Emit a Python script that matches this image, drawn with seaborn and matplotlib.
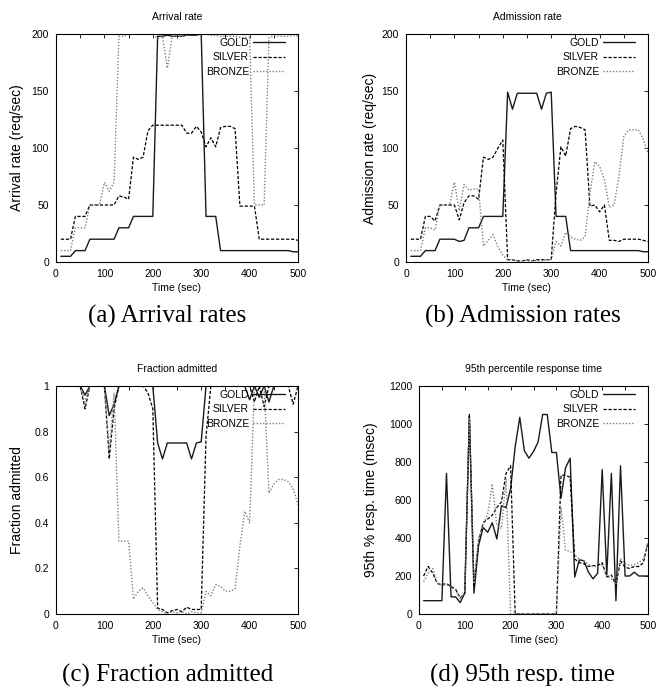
import matplotlib
matplotlib.use("Agg")
import matplotlib.pyplot as plt
from matplotlib.ticker import MultipleLocator
import seaborn as sns
import pandas as pd

# ---------------- data ----------------
time = [10, 20, 30, 40, 50, 60, 70, 80, 90, 100,
        110, 120, 130, 140, 150, 160, 170, 180, 190, 200,
        210, 220, 230, 240, 250, 260, 270, 280, 290, 300,
        310, 320, 330, 340, 350, 360, 370, 380, 390, 400,
        410, 420, 430, 440, 450, 460, 470, 480, 490, 500]

gold_arrival = [5, 5, 5, 10, 10, 10, 20, 20, 20, 20,
                20, 20, 30, 30, 30, 40, 40, 40, 40, 40,
                198, 198, 199, 198, 198, 198, 199, 199, 199, 200,
                40, 40, 40, 10, 10, 10, 10, 10, 10, 10,
                10, 10, 10, 10, 10, 10, 10, 10, 9, 9]
silver_arrival = [20, 20, 20, 40, 40, 40, 50, 50, 50, 50,
                  50, 50, 58, 57, 55, 92, 90, 92, 115, 120,
                  120, 120, 120, 120, 120, 120, 113, 113, 119, 114,
                  101, 109, 101, 118, 119, 119, 117, 49, 49, 49,
                  49, 20, 20, 20, 20, 20, 20, 20, 20, 19]
bronze_arrival = [10, 10, 10, 30, 30, 30, 50, 50, 50, 70,
                  62, 70, 198, 198, 200, 200, 200, 200, 200, 200,
                  196, 198, 170, 198, 198, 198, 199, 200, 200, 200,
                  200, 199, 199, 198, 198, 198, 198, 197, 197, 197,
                  50, 50, 50, 197, 198, 198, 198, 198, 199, 198]

gold_admit = [5, 5, 5, 10, 10, 10, 20, 20, 20, 20,
              18, 19, 30, 30, 30, 40, 40, 40, 40, 40,
              149, 134, 148, 148, 148, 148, 148, 134, 148, 149,
              40, 40, 40, 10, 10, 10, 10, 10, 10, 10,
              10, 10, 10, 10, 10, 10, 10, 10, 9, 9]
silver_admit = [20, 20, 20, 40, 40, 36, 50, 50, 50, 50,
                37, 52, 58, 58, 55, 92, 90, 92, 100, 107,
                2, 2, 1, 1, 2, 1, 2, 2, 2, 2,
                60, 101, 93, 117, 119, 118, 116, 49, 50, 44,
                50, 19, 19, 18, 20, 20, 20, 20, 19, 18]
bronze_admit = [10, 10, 10, 30, 30, 28, 50, 50, 50, 70,
                45, 68, 63, 64, 64, 14, 19, 24, 13, 6,
                2, 2, 1, 1, 1, 1, 1, 1, 2, 2,
                18, 14, 26, 22, 20, 19, 22, 60, 88, 84,
                72, 48, 50, 75, 110, 116, 116, 116, 108, 95]

gold_frac = [1, 1, 1, 1, 1, 0.96, 1, 1, 1, 1,
             0.87, 0.92, 1, 1, 1, 1, 1, 1, 1, 1,
             0.75, 0.68, 0.75, 0.75, 0.75, 0.75, 0.75, 0.68, 0.75, 0.755,
             1, 1, 1, 1, 1, 1, 1, 1, 1, 0.94,
             1, 0.95, 1, 0.93, 1, 1, 1, 1, 1, 1]
silver_frac = [1, 1, 1, 1, 1, 0.9, 1, 1, 1, 1,
               0.68, 0.9, 1, 1, 1, 1, 1, 1, 0.97, 0.9,
               0.025, 0.02, 0.005, 0.015, 0.02, 0.01, 0.03, 0.02, 0.02, 0.02,
               0.78, 1, 1, 1, 1, 1, 1, 1, 1, 1,
               0.93, 1, 0.91, 1, 1, 1, 1, 1, 0.92, 1]
bronze_frac = [1, 1, 1, 1, 1, 0.93, 1, 1, 1, 1,
               0.72, 0.97, 0.32, 0.32, 0.32, 0.065, 0.1, 0.115, 0.08, 0.05,
               0.02, 0.01, 0.0, 0.01, 0.005, 0.01, 0.0, 0.01, 0.005, 0.005,
               0.1, 0.08, 0.13, 0.12, 0.1, 0.1, 0.11, 0.3, 0.45, 0.40,
               1.0, 1.0, 1.0, 0.53, 0.57, 0.59, 0.59, 0.58, 0.55, 0.48]

gold_resp = [70, 70, 70, 70, 70, 740, 90, 90, 60, 110,
             1045, 110, 360, 455, 430, 480, 395, 570, 560, 660,
             880, 1035, 860, 820, 855, 905, 1050, 1050, 850, 850,
             610, 770, 820, 195, 285, 280, 220, 185, 215, 760,
             205, 740, 70, 780, 200, 200, 220, 200, 200, 200]
silver_resp = [200, 250, 215, 160, 155, 160, 145, 130, 85, 110,
               1050, 150, 380, 480, 500, 520, 560, 590, 740, 780,
               0, 0, 0, 0, 0, 0, 0, 0, 0, 0,
               730, 730, 720, 290, 270, 265, 250, 255, 255, 270,
               195, 205, 155, 280, 245, 240, 250, 250, 270, 380]
bronze_resp = [170, 215, 240, 165, 150, 155, 140, 125, 80, 115,
               1035, 160, 395, 475, 525, 685, 465, 450, 710, 0,
               0, 0, 0, 0, 0, 0, 0, 0, 0, 0,
               560, 335, 330, 310, 290, 280, 260, 250, 250, 260,
               200, 185, 160, 290, 265, 255, 260, 270, 290, 370]

classes = ["GOLD", "SILVER", "BRONZE"]
panel_titles = ["Arrival rate", "Admission rate", "Fraction admitted",
                "95th percentile response time"]
panel_ylabels = ["Arrival rate (req/sec)", "Admission rate (req/sec)",
                 "Fraction admitted", "95th % resp. time (msec)"]
captions = ["(a) Arrival rates", "(b) Admission rates",
            "(c) Fraction admitted", "(d) 95th resp. time"]
y_limits = [(0, 200), (0, 200), (0, 1), (0, 1200)]
y_steps = [50, 50, 0.2, 200]

panels = [
    [gold_arrival, silver_arrival, bronze_arrival],
    [gold_admit, silver_admit, bronze_admit],
    [gold_frac, silver_frac, bronze_frac],
    [gold_resp, silver_resp, bronze_resp],
]

# ---------------- style ----------------
sns.set_theme(style="white")
plt.rcParams["font.family"] = ["Liberation Sans", "DejaVu Sans"]
FS = 7.5
FS_Y = 10

styles = {
    "GOLD": dict(color="#1a1a1a", linestyle="-", linewidth=1.0),
    "SILVER": dict(color="#000000", linestyle=(0, (2.6, 1.4)), linewidth=0.9),
    "BRONZE": dict(color="#808080", linestyle=(0, (1.0, 1.3)), linewidth=1.0),
}

W, H = 664, 693
fig = plt.figure(figsize=(W / 100, H / 100), dpi=100)

# axes boxes in pixels: left, top, right, bottom
boxes = [(56, 34, 298, 262), (406, 34, 648, 262),
         (56, 386, 298, 614), (419, 386, 648, 614)]
ylabel_x_px = [24, 377, 24, 378]

for i, (l, t, r, b) in enumerate(boxes):
    ax = fig.add_axes([l / W, 1 - b / H, (r - l) / W, (b - t) / H])
    df = pd.DataFrame({"time": time})
    for name, vals in zip(classes, panels[i]):
        df[name] = vals
    for name in classes:
        sns.lineplot(data=df, x="time", y=name, ax=ax, label=name,
                     **styles[name])
    ax.set_xlim(0, 500)
    ax.set_ylim(*y_limits[i])
    ax.xaxis.set_major_locator(MultipleLocator(100))
    ax.xaxis.set_minor_locator(MultipleLocator(50))
    ax.yaxis.set_major_locator(MultipleLocator(y_steps[i]))
    if i == 2:
        ax.set_yticks([0, 0.2, 0.4, 0.6, 0.8, 1])
        ax.set_yticklabels(["0", "0.2", "0.4", "0.6", "0.8", "1"])
    ax.tick_params(which="both", direction="in", top=True, right=True,
                   length=3.0, width=0.6, color="black",
                   labelsize=FS, labelcolor="black", pad=5)
    for sp in ax.spines.values():
        sp.set_linewidth(0.8)
        sp.set_color("black")
    ax.set_xlabel("Time (sec)", fontsize=FS, color="black")
    ax.set_ylabel(panel_ylabels[i], fontsize=FS_Y, color="black")
    ax.xaxis.set_label_coords(0.5, -(21) / (b - t))
    ax.xaxis.label.set_va("top")
    ax.yaxis.set_label_coords((ylabel_x_px[i] - l) / (r - l), 0.5)
    ax.set_title(panel_titles[i], fontsize=FS, color="black", pad=10)
    leg = ax.legend(loc="upper right", frameon=False, markerfirst=False,
                    fontsize=FS, handlelength=3.1, handletextpad=0.35,
                    labelspacing=0.42, borderpad=0, borderaxespad=0,
                    bbox_to_anchor=(1 - 13 / (r - l), 1 - 4 / (b - t)))
    for txt in leg.get_texts():
        txt.set_color("black")

cap_pos = [(167, 316), (523, 316), (168, 675), (522, 675)]
for (cx, cy), cap in zip(cap_pos, captions):
    fig.text(cx / W, 1 - cy / H, cap, ha="center", va="center",
             fontsize=18, family=["Liberation Serif", "DejaVu Serif"],
             color="black")

fig.savefig("out.png", dpi=100, facecolor="white")
